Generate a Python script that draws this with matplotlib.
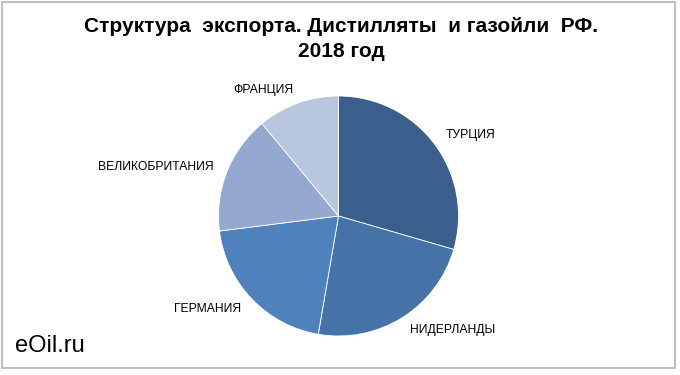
import matplotlib
matplotlib.use("Agg")
import matplotlib.pyplot as plt
from matplotlib.patches import Rectangle

countries = ["ТУРЦИЯ", "НИДЕРЛАНДЫ", "ГЕРМАНИЯ", "ВЕЛИКОБРИТАНИЯ", "ФРАНЦИЯ"]
shares = [29.5, 23.2, 20.3, 16.0, 11.0]
colors = ["#3B5F8C", "#4573A7", "#4F81BD", "#95A9D0", "#B9C6DF"]
title = "Структура  экспорта. Дистилляты  и газойли  РФ.\n2018 год"
watermark = "eOil.ru"

fig = plt.figure(figsize=(6.8, 3.75), dpi=100)
fig.patch.set_facecolor("white")
fig.patches.append(Rectangle((2 / 680, 1 - 368 / 375), 673 / 680, 366 / 375,
                             transform=fig.transFigure, fill=False,
                             edgecolor="#BFBFBF", linewidth=1.5))

ax = fig.add_axes([(338.5 - 120) / 680, (375 - 336) / 375, 240 / 680, 240 / 375])
wedges, texts = ax.pie(shares, labels=countries, colors=colors, startangle=90,
                       counterclock=False, labeldistance=1.12,
                       wedgeprops=dict(edgecolor="white", linewidth=0.6),
                       textprops=dict(fontsize=8.7, family="Liberation Sans", color="black"))
ax.set_aspect("equal")
ax.set_xlim(-1, 1)
ax.set_ylim(-1, 1)

fig.text(341 / 680, 1 - 39 / 375, title, ha="center", va="center", fontsize=15,
         fontweight="bold", family="Liberation Sans", linespacing=1.35)
fig.text(15 / 680, 1 - 346 / 375, watermark, ha="left", va="center", fontsize=17,
         family="Liberation Sans")

fig.savefig("out.png", dpi=100)
